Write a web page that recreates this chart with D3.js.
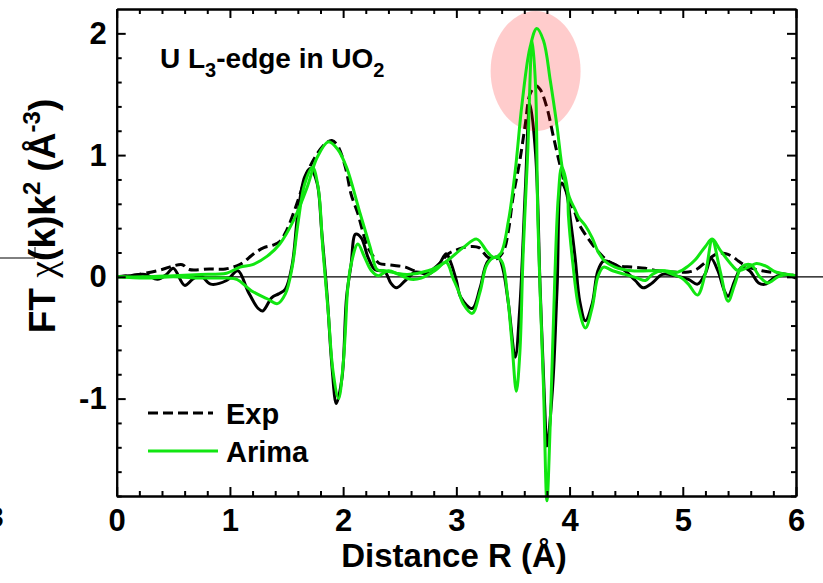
<!DOCTYPE html>
<html>
<head>
<meta charset="utf-8">
<script src="https://cdn.jsdelivr.net/npm/d3@7/dist/d3.min.js"></script>
<style>
  html, body { margin: 0; padding: 0; background: #fff; }
  svg { display: block; }
  text { font-family: "Liberation Sans", Arial, sans-serif; font-weight: bold; fill: #000; }
</style>
</head>
<body>
<svg id="chart" width="823" height="583"></svg>
<script>
// ---- data: [R (Å), value] ----
const expMagnitude = [[0,0],[0.12,0.01],[0.25,0.03],[0.4,0.06],[0.5,0.09],[0.58,0.1],[0.64,0.06],[0.82,0.065],[0.96,0.065],[1.06,0.09],[1.12,0.12],[1.21,0.19],[1.3,0.24],[1.38,0.26],[1.44,0.29],[1.5,0.38],[1.56,0.52],[1.62,0.68],[1.68,0.85],[1.77,1.01],[1.85,1.1],[1.9,1.12],[1.95,1.08],[2.02,0.9],[2.07,0.68],[2.13,0.52],[2.18,0.35],[2.22,0.24],[2.28,0.15],[2.32,0.11],[2.4,0.1],[2.49,0.09],[2.55,0.08],[2.66,0.04],[2.75,0.04],[2.84,0.1],[2.93,0.19],[3.0,0.22],[3.06,0.24],[3.14,0.25],[3.2,0.24],[3.28,0.16],[3.36,0.15],[3.42,0.22],[3.46,0.38],[3.5,0.65],[3.56,0.95],[3.61,1.26],[3.65,1.5],[3.7,1.57],[3.74,1.54],[3.8,1.39],[3.86,1.14],[3.92,0.9],[3.99,0.65],[4.05,0.52],[4.08,0.44],[4.16,0.32],[4.25,0.21],[4.34,0.13],[4.43,0.09],[4.55,0.08],[4.67,0.07],[4.78,0.05],[4.91,0.04],[5.05,0.04],[5.12,0.06],[5.2,0.12],[5.3,0.19],[5.38,0.19],[5.45,0.16],[5.49,0.13],[5.58,0.08],[5.7,0.05],[5.85,0.03],[6.0,0.01]];

const expImaginary = [[0,0],[0.12,0.01],[0.25,0.02],[0.36,-0.02],[0.44,0.02],[0.5,0.07],[0.6,-0.07],[0.67,-0.02],[0.74,0.01],[0.83,-0.06],[0.97,-0.03],[1.07,0.05],[1.16,-0.12],[1.25,-0.26],[1.29,-0.28],[1.37,-0.17],[1.43,-0.14],[1.49,-0.1],[1.55,0.1],[1.6,0.52],[1.66,0.82],[1.71,0.89],[1.77,0.77],[1.81,0.38],[1.86,-0.17],[1.9,-0.72],[1.94,-1.04],[1.99,-0.83],[2.03,-0.17],[2.07,0.1],[2.11,0.35],[2.16,0.32],[2.22,0.16],[2.28,0.06],[2.37,0.04],[2.42,-0.05],[2.47,-0.09],[2.55,-0.03],[2.64,0.04],[2.75,0.02],[2.84,0.09],[2.91,0.19],[2.95,0.12],[3.0,-0.03],[3.04,-0.17],[3.14,-0.26],[3.21,-0.09],[3.28,0.13],[3.37,0.16],[3.41,0.07],[3.46,-0.22],[3.52,-0.66],[3.56,-0.26],[3.61,0.73],[3.65,1.42],[3.7,1.01],[3.74,-0.09],[3.78,-1.05],[3.8,-1.39],[3.85,-0.91],[3.89,-0.09],[3.93,0.77],[3.97,0.7],[4.01,0.45],[4.05,0.15],[4.09,-0.2],[4.14,-0.36],[4.2,-0.22],[4.25,0.05],[4.3,0.13],[4.38,0.11],[4.49,0.05],[4.58,-0.03],[4.65,-0.09],[4.73,-0.05],[4.82,0.02],[4.93,0.01],[5.05,-0.02],[5.13,-0.06],[5.2,0.03],[5.25,0.15],[5.31,0.05],[5.37,-0.12],[5.4,-0.16],[5.46,-0.03],[5.52,0.08],[5.59,0.05],[5.67,-0.05],[5.73,-0.06],[5.82,0.0],[5.9,0.02],[6.0,-0.01]];

const arimaMagnitude = [[0,0],[0.25,0.0],[0.5,0.01],[0.74,0.02],[0.97,0.03],[1.09,0.08],[1.2,0.1],[1.33,0.17],[1.44,0.27],[1.56,0.46],[1.68,0.73],[1.77,0.98],[1.87,1.11],[1.95,1.05],[2.03,0.9],[2.15,0.52],[2.24,0.24],[2.3,0.06],[2.37,0.05],[2.47,0.03],[2.57,0.02],[2.75,0.05],[2.9,0.12],[3.06,0.24],[3.18,0.31],[3.27,0.21],[3.33,0.16],[3.39,0.19],[3.46,0.46],[3.52,0.87],[3.58,1.42],[3.65,1.88],[3.71,2.04],[3.77,1.94],[3.83,1.61],[3.89,1.23],[3.94,0.87],[4.0,0.65],[4.05,0.55],[4.08,0.49],[4.14,0.42],[4.2,0.32],[4.25,0.21],[4.31,0.13],[4.4,0.08],[4.55,0.05],[4.7,0.05],[4.84,0.05],[4.96,0.04],[5.05,0.09],[5.11,0.14],[5.2,0.25],[5.26,0.31],[5.33,0.22],[5.43,0.1],[5.49,0.05],[5.58,0.08],[5.65,0.11],[5.73,0.09],[5.82,0.04],[5.93,0.02],[6.0,0.01]];

const arimaImaginary = [[0,0],[0.25,-0.01],[0.5,0.0],[0.74,-0.01],[0.97,-0.01],[1.06,-0.02],[1.2,-0.12],[1.33,-0.18],[1.42,-0.22],[1.49,-0.14],[1.55,0.08],[1.6,0.43],[1.66,0.76],[1.73,0.9],[1.78,0.73],[1.82,0.24],[1.87,-0.31],[1.91,-0.77],[1.96,-1.0],[2.0,-0.72],[2.02,-0.44],[2.04,-0.1],[2.07,0.1],[2.13,0.27],[2.19,0.16],[2.25,0.05],[2.31,0.01],[2.4,0.05],[2.49,0.02],[2.6,-0.02],[2.69,-0.01],[2.81,0.05],[2.91,0.12],[2.97,-0.01],[3.02,-0.12],[3.06,-0.22],[3.14,-0.3],[3.21,-0.12],[3.27,0.1],[3.34,0.16],[3.4,0.13],[3.45,-0.14],[3.49,-0.53],[3.53,-0.94],[3.56,-0.64],[3.59,0.19],[3.63,1.01],[3.67,1.94],[3.7,1.56],[3.72,0.46],[3.77,-0.91],[3.8,-1.84],[3.83,-1.19],[3.87,0.0],[3.9,0.65],[3.93,0.9],[3.98,0.73],[3.99,0.5],[4.03,0.1],[4.08,-0.25],[4.14,-0.42],[4.2,-0.25],[4.25,0.0],[4.3,0.08],[4.38,0.05],[4.49,0.02],[4.6,-0.01],[4.67,-0.03],[4.73,0.02],[4.82,0.05],[4.91,0.02],[4.99,-0.01],[5.05,-0.06],[5.13,-0.15],[5.2,0.03],[5.26,0.3],[5.33,0.05],[5.4,-0.2],[5.46,-0.06],[5.52,0.08],[5.6,0.1],[5.68,0.0],[5.75,-0.05],[5.84,0.0],[5.93,0.02],[6.0,0.0]];

const xMajorTicks = [0, 1, 2, 3, 4, 5, 6];
const yMajorTicks = [-1, 0, 1, 2];
const legendLabels = ["Exp", "Arima"];

// ---- layout ----
const svg = d3.select("#chart");
const L = 116.7, R = 796, T = 9, B = 496;
const x = d3.scaleLinear().domain([0, 6]).range([L, R]);
const y = d3.scaleLinear().domain([-1.8, 2.2]).range([B, T]);
const GREEN = "#11e611";

const xMinor = d3.range(0, 30).map(i => i * 0.2).filter(v => Math.abs(v - Math.round(v)) > 1e-6);
const yMinor = d3.range(0, 20).map(i => -1.8 + i * 0.2).filter(v => Math.abs(v - Math.round(v)) > 1e-6);

// stray fragments from neighbouring panel
svg.append("path").attr("d", "M0,258H35V247").attr("fill", "none").attr("stroke", "#000").attr("stroke-width", 1);
svg.append("text").attr("x", -13).attr("y", 527).attr("font-size", 30).text("3");

// zero line
svg.append("line").attr("x1", x(0)).attr("x2", 823).attr("y1", y(0)).attr("y2", y(0))
  .attr("stroke", "#000").attr("stroke-width", 1.2);

const line = d3.line().x(d => x(d[0])).y(d => y(d[1])).curve(d3.curveCatmullRom.alpha(0.5));

svg.append("path").datum(expMagnitude).attr("d", line).attr("fill", "none")
  .attr("stroke", "#000").attr("stroke-width", 3).attr("stroke-dasharray", "10,5");
svg.append("path").datum(expImaginary).attr("d", line).attr("fill", "none")
  .attr("stroke", "#000").attr("stroke-width", 3);

// highlight ellipse
svg.append("ellipse").attr("cx", x(3.7)).attr("cy", y(1.69)).attr("rx", 45).attr("ry", 60)
  .attr("fill", "#ff0000").attr("fill-opacity", 0.2);

svg.append("path").datum(arimaMagnitude).attr("d", line).attr("fill", "none")
  .attr("stroke", GREEN).attr("stroke-width", 3);
svg.append("path").datum(arimaImaginary).attr("d", line).attr("fill", "none")
  .attr("stroke", GREEN).attr("stroke-width", 3);

// ---- axes ----
function styleAxis(g) {
  g.selectAll("path.domain").attr("stroke", "#000").attr("stroke-width", 2);
  g.selectAll(".tick line").attr("stroke", "#000").attr("stroke-width", 2);
  g.selectAll("text").attr("font-family", "Liberation Sans, Arial, sans-serif")
    .attr("font-weight", "bold").attr("font-size", 31).attr("fill", "#000");
}
const fmt = d => String(d).replace("\u2212", "-");

svg.append("g").attr("transform", `translate(0,${B})`)
  .call(d3.axisBottom(x).tickValues(xMajorTicks).tickSize(-9).tickSizeOuter(0).tickPadding(13).tickFormat(fmt))
  .call(styleAxis);
svg.append("g").attr("transform", `translate(0,${B})`)
  .call(d3.axisBottom(x).tickValues(xMinor).tickSize(-5).tickSizeOuter(0).tickFormat(""))
  .call(styleAxis);
svg.append("g").attr("transform", `translate(0,${T})`)
  .call(d3.axisTop(x).tickValues(xMajorTicks).tickSize(-9).tickSizeOuter(0).tickFormat(""))
  .call(styleAxis);
svg.append("g").attr("transform", `translate(0,${T})`)
  .call(d3.axisTop(x).tickValues(xMinor).tickSize(-5).tickSizeOuter(0).tickFormat(""))
  .call(styleAxis);
svg.append("g").attr("transform", `translate(${L},0)`)
  .call(d3.axisLeft(y).tickValues(yMajorTicks).tickSize(-9).tickSizeOuter(0).tickPadding(10).tickFormat(d => d < 0 ? "-" + Math.abs(d) : String(d)))
  .call(styleAxis);
svg.append("g").attr("transform", `translate(${L},0)`)
  .call(d3.axisLeft(y).tickValues(yMinor).tickSize(-5).tickSizeOuter(0).tickFormat(""))
  .call(styleAxis);
svg.append("g").attr("transform", `translate(${R},0)`)
  .call(d3.axisRight(y).tickValues(yMajorTicks).tickSize(-9).tickSizeOuter(0).tickFormat(""))
  .call(styleAxis);
svg.append("g").attr("transform", `translate(${R},0)`)
  .call(d3.axisRight(y).tickValues(yMinor).tickSize(-5).tickSizeOuter(0).tickFormat(""))
  .call(styleAxis);

// ---- titles ----
svg.append("text").attr("x", 454).attr("y", 567).attr("text-anchor", "middle").attr("font-size", 33)
  .text("Distance R (Å)");

const yt = svg.append("text").attr("transform", "translate(55,216) rotate(-90)")
  .attr("text-anchor", "middle").attr("font-size", 37);
yt.append("tspan").text("FT ");
yt.append("tspan").attr("font-family", "Liberation Serif, serif").attr("font-weight", "normal").attr("font-size", 38).text("χ");
yt.append("tspan").text("(k)k");
yt.append("tspan").attr("font-size", 24).attr("dy", -15).text("2");
yt.append("tspan").attr("dy", 15).text(" (Å");
yt.append("tspan").attr("font-size", 24).attr("dy", -15).text("-3");
yt.append("tspan").attr("dy", 15).text(")");

const ann = svg.append("text").attr("x", 160).attr("y", 68).attr("font-size", 28);
ann.append("tspan").text("U L");
ann.append("tspan").attr("font-size", 20).attr("dy", 9).text("3");
ann.append("tspan").attr("dy", -9).text("-edge in UO");
ann.append("tspan").attr("font-size", 20).attr("dy", 9).text("2");

// ---- legend ----
const lg = svg.append("g");
lg.append("line").attr("x1", 148).attr("x2", 213).attr("y1", 413).attr("y2", 413)
  .attr("stroke", "#000").attr("stroke-width", 3).attr("stroke-dasharray", "10,5");
lg.append("text").attr("x", 226).attr("y", 424).attr("font-size", 29).text(legendLabels[0]);
lg.append("line").attr("x1", 148).attr("x2", 218).attr("y1", 451).attr("y2", 451)
  .attr("stroke", GREEN).attr("stroke-width", 3);
lg.append("text").attr("x", 226).attr("y", 462).attr("font-size", 29).text(legendLabels[1]);
</script>
</body>
</html>
